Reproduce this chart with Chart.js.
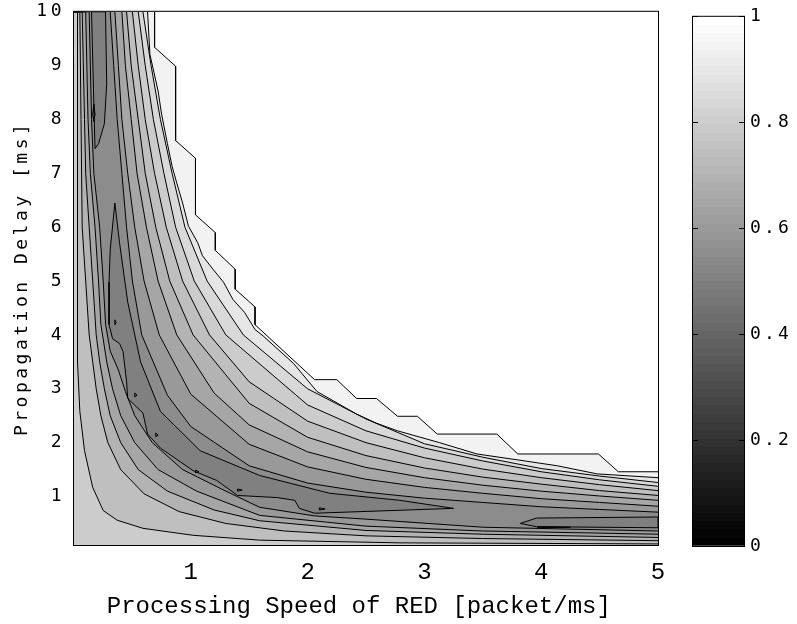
<!DOCTYPE html>
<html>
<head>
<meta charset="utf-8">
<title>RED contour</title>
<script src="https://cdn.jsdelivr.net/npm/chart.js@4.4.1/dist/chart.umd.min.js"></script>
<style>
  html, body { margin: 0; padding: 0; background: #fff; }
  #wrap { position: relative; width: 797px; height: 624px; overflow: hidden; }
  #contour { position: absolute; left: 0; top: 0; }
  #colorbar { position: absolute; left: 680px; top: 0; }
</style>
</head>
<body>
<div id="wrap">
  <canvas id="contour" width="680" height="624"></canvas>
  <canvas id="colorbar" width="117" height="624"></canvas>
</div>
<script>
// axes
const xRange = [0, 5];
const yRange = [0.1, 10];
const xTicks = [1, 2, 3, 4, 5];
const yTicks = [1, 2, 3, 4, 5, 6, 7, 8, 9, 10];
const barTicks = [0, 0.2, 0.4, 0.6, 0.8, 1];

// contour lines as [speed, delay]
// upper-right family (value grows towards the top-right corner)
const up100 = [[0.69,10],[0.69,9.34],[0.87,8.99],[0.87,7.61],[1.04,7.28],[1.04,6.23],[1.21,5.9],[1.21,5.57],[1.38,5.22],[1.38,4.85],[1.55,4.52],[1.55,4.19],[2.06,3.17],[2.25,3.17],[2.42,2.82],[2.59,2.82],[2.77,2.49],[2.94,2.49],[3.11,2.16],[3.62,2.16],[3.8,1.79],[4.49,1.79],[4.66,1.46],[5,1.46]];
const up95 = [[0.63,10],[0.65,9.21],[0.72,8.53],[0.75,8.1],[0.8,7.55],[0.84,7.13],[0.88,6.82],[0.93,6.45],[0.98,6.02],[1.06,5.71],[1.1,5.47],[1.19,5.22],[1.28,4.98],[1.36,4.66],[1.46,4.42],[1.55,4.1],[1.62,3.98],[1.88,3.47],[2.08,2.95],[2.42,2.53],[2.59,2.36],[2.77,2.22],[3.13,2.0],[3.45,1.79],[3.8,1.68],[4.14,1.57],[4.48,1.42],[5,1.35]];
const up90 = [[0.59,10],[0.66,9],[0.74,8],[0.84,7],[0.95,6],[1.14,5],[1.45,4],[2.0,3.0],[2.5,2.44],[3.0,1.98],[3.5,1.73],[4.0,1.52],[4.5,1.38],[5,1.26]];
const up85 = [[0.55,10],[0.61,9],[0.68,8],[0.77,7],[0.87,6],[1.03,5],[1.3,4],[2.0,2.7],[2.5,2.22],[3.0,1.9],[3.5,1.66],[4.0,1.46],[4.5,1.31],[5,1.19]];
const up80 = [[0.5,10],[0.55,9],[0.61,8],[0.69,7],[0.79,6],[0.93,5],[1.16,4],[1.5,3.13],[2.0,2.4],[2.5,2.0],[3.0,1.72],[3.5,1.51],[4.0,1.35],[4.5,1.22],[5,1.11]];
const up75 = [[0.45,10],[0.49,9],[0.55,8],[0.61,7],[0.7,6],[0.82,5],[1.02,4],[1.5,2.73],[2.0,2.1],[2.5,1.76],[3.0,1.53],[3.5,1.36],[4.0,1.23],[4.5,1.11],[5,1.02]];
const up70 = [[0.41,10],[0.44,9],[0.49,8],[0.54,7],[0.62,6],[0.72,5],[0.88,4],[1.2,2.92],[1.5,2.33],[2.0,1.83],[2.5,1.54],[3.0,1.35],[3.5,1.21],[4.0,1.1],[4.5,1.01],[5,0.93]];
const up65 = [[0.35,10],[0.38,9],[0.41,8],[0.46,7],[0.52,6],[0.6,5],[0.73,4],[1.0,2.9],[1.5,1.97],[2.0,1.55],[2.5,1.32],[3.0,1.17],[3.5,1.06],[4.0,0.96],[4.5,0.89],[5,0.82]];
const up60 = [[0.31,10],[0.34,9],[0.37,8],[0.41,7],[0.45,6],[0.5,5],[0.58,4],[0.8,2.88],[1.0,2.3],[1.5,1.57],[2.0,1.25],[2.5,1.08],[3.0,0.97],[3.5,0.89],[4.0,0.81],[4.5,0.76],[5,0.71]];

// lower-left family (value grows towards the origin)
const low60 = [[0.13,10],[0.15,8],[0.17,7],[0.22,6],[0.25,5],[0.27,4.2],[0.31,3.7],[0.38,3.35],[0.44,2.95],[0.52,2.5],[0.67,2.0],[0.93,1.5],[1.3,1.1],[1.59,0.8],[2.06,0.64],[2.5,0.58],[3.5,0.43],[5,0.36]];
const low65 = [[0.1,10],[0.12,8],[0.14,7],[0.18,6],[0.21,5],[0.23,4.2],[0.28,3.5],[0.33,3.0],[0.4,2.5],[0.52,2.0],[0.72,1.5],[1.05,1.1],[1.59,0.65],[2.5,0.45],[3.5,0.36],[5,0.3]];
const low70 = [[0.07,10],[0.09,8],[0.1,7],[0.13,6],[0.16,5],[0.19,4],[0.22,3.5],[0.26,3.0],[0.31,2.5],[0.4,2.0],[0.55,1.5],[0.8,1.1],[1.2,0.75],[1.59,0.55],[2.5,0.37],[3.5,0.3],[5,0.24]];
const low75 = [[0.05,10],[0.06,8],[0.07,6],[0.1,5],[0.13,4],[0.16,3.5],[0.19,3.0],[0.23,2.5],[0.29,2.0],[0.4,1.5],[0.6,1.05],[0.9,0.72],[1.3,0.5],[1.8,0.36],[2.5,0.27],[3.5,0.22],[5,0.18]];
const low80 = [[0.03,10],[0.03,3.5],[0.05,2.58],[0.09,1.85],[0.16,1.17],[0.25,0.74],[0.37,0.56],[0.59,0.41],[1.02,0.28],[1.59,0.19],[2.79,0.14],[5,0.12]];

// closed contours inside the valley (0.55) and its minima (0.5)
const valleyTop = [[0.15,10],[0.17,8.29],[0.18,7.46],[0.21,7.55],[0.26,7.92],[0.28,8.66],[0.27,10]];
const valleyLong = [[0.35,6.45],[0.31,5.58],[0.3,4.98],[0.3,4.19],[0.33,3.93],[0.39,3.84],[0.42,3.69],[0.45,3.14],[0.46,2.82],[0.59,2.55],[0.63,2.16],[0.74,1.9],[1.02,1.48],[1.22,1.3],[1.4,1.02],[1.74,0.98],[1.89,0.93],[1.93,0.78],[2.06,0.69],[3.25,0.78],[2.79,0.93],[2.19,1.06],[1.59,1.39],[1.08,1.85],[0.74,2.58],[0.57,3.5],[0.46,4.61],[0.39,5.71]];
const valleyRight = [[5,0.62],[3.96,0.6],[3.82,0.5],[3.96,0.44],[5,0.42]];
const minima = [
  [[0.17,8.29],[0.18,8.1],[0.17,7.96],[0.16,8.1]],
  [[0.35,4.28],[0.36,4.23],[0.35,4.19]],
  [[0.52,2.92],[0.54,2.88],[0.52,2.85]],
  [[0.7,2.18],[0.72,2.14],[0.7,2.11]],
  [[1.04,1.49],[1.07,1.46],[1.04,1.44]],
  [[1.4,1.14],[1.44,1.12],[1.4,1.1]],
  [[2.1,0.79],[2.15,0.77],[2.1,0.75]],
  [[3.97,0.44],[4.25,0.43],[3.97,0.42]]
];

const upperSet = [[0.6, up60], [0.65, up65], [0.7, up70], [0.75, up75], [0.8, up80], [0.85, up85], [0.9, up90], [0.95, up95], [1.0, up100]];
const lowerSet = [[0.6, low60], [0.65, low65], [0.7, low70], [0.75, low75], [0.8, low80]];
const valleyLevel = 0.55;

const gray = v => { const g = Math.round(v * 255); return `rgb(${g},${g},${g})`; };
const pts = a => a.map(p => ({ x: p[0], y: p[1] }));

// painter's order: biggest regions first
const layers = [];
lowerSet.forEach(([lvl, line]) => layers.push({ data: [{ x: xRange[0], y: yRange[1] }, ...pts(line)], fill: 'start', backgroundColor: gray(lvl) }));
upperSet.forEach(([lvl, line]) => layers.push({ data: pts(line), fill: 'end', backgroundColor: gray(lvl) }));
[valleyTop, valleyLong, valleyRight].forEach(line => layers.push({ data: pts(line).concat(pts(line.slice(0, 1))), fill: 'shape', backgroundColor: gray(valleyLevel - 0.05) }));
minima.forEach(line => layers.push({ data: pts(line).concat(pts(line.slice(0, 1))), fill: 'shape', backgroundColor: gray(valleyLevel - 0.1) }));

// filler paints the last dataset first
const datasets = layers.reverse().map(d => Object.assign({
  showLine: true, borderColor: '#000', borderWidth: 1, pointRadius: 0, tension: 0
}, d));

const frame = {
  id: 'frame',
  beforeDraw(chart) {
    const { ctx, chartArea: a } = chart;
    ctx.letterSpacing = '0px';
    ctx.save();
    ctx.fillStyle = gray(valleyLevel);
    ctx.fillRect(a.left, a.top, a.width, a.height);
    ctx.restore();
  },
  afterDatasetsDraw(chart) {
    const { ctx, chartArea: a } = chart;
    ctx.save();
    ctx.strokeStyle = '#000';
    ctx.lineWidth = 1;
    ctx.strokeRect(a.left - 0.5, a.top - 0.5, a.width + 1, a.height + 1);
    ctx.restore();
    // y labels and title are drawn after this point
    ctx.letterSpacing = '3.5px';
  }
};

const monoX = { family: 'Liberation Mono', size: 24 };
const monoY = { family: 'DejaVu Sans Mono', size: 18 };

new Chart(document.getElementById('contour'), {
  type: 'scatter',
  data: { datasets },
  options: {
    responsive: false,
    animation: false,
    devicePixelRatio: 1,
    layout: { padding: { left: 0, right: 22, top: 7, bottom: 0 } },
    plugins: {
      legend: { display: false },
      tooltip: { enabled: false },
      filler: { drawTime: 'beforeDatasetsDraw' }
    },
    scales: {
      x: {
        type: 'linear', min: xRange[0], max: xRange[1],
        afterBuildTicks: s => { s.ticks = xTicks.map(v => ({ value: v })); },
        afterFit: s => { s.height = 79; },
        grid: { display: false },
        border: { display: false },
        ticks: { font: monoX, color: '#000', padding: 5 },
        title: { display: true, text: 'Processing Speed of RED [packet/ms] ', font: monoX, color: '#000', padding: { top: 0, bottom: 3 } }
      },
      y: {
        type: 'linear', min: yRange[0], max: yRange[1],
        afterBuildTicks: s => { s.ticks = yTicks.map(v => ({ value: v })); },
        afterFit: s => { s.width = 74; },
        grid: { display: false, z: 1 },
        border: { display: false },
        ticks: { font: monoY, color: '#000', padding: 1, z: 1 },
        title: { display: true, text: 'Propagation Delay [ms]', font: monoY, color: '#000', padding: { top: 12, bottom: 0 } }
      }
    }
  },
  plugins: [frame]
});

// colour bar
function bandGradient(chart) {
  const a = chart.chartArea;
  if (!a) return '#888';
  const g = chart.ctx.createLinearGradient(0, a.bottom, 0, a.top);
  const n = 64;
  for (let k = 0; k < n; k++) {
    const c = gray(k / (n - 1));
    g.addColorStop(k / n, c);
    g.addColorStop((k + 1) / n, c);
  }
  return g;
}

const barFrame = {
  id: 'barFrame',
  beforeDraw(chart) { chart.ctx.letterSpacing = '3.2px'; },
  afterDraw(chart) {
    const { ctx, chartArea: a } = chart;
    ctx.save();
    ctx.strokeStyle = '#000';
    ctx.lineWidth = 1;
    ctx.strokeRect(a.left - 0.5, a.top - 0.5, a.width + 1, a.height + 1);
    ctx.restore();
  }
};

new Chart(document.getElementById('colorbar'), {
  type: 'bar',
  data: {
    labels: ['gray'],
    datasets: [{ data: [[0, 1]], backgroundColor: c => bandGradient(c.chart), borderWidth: 0, barPercentage: 1, categoryPercentage: 1 }]
  },
  options: {
    responsive: false,
    animation: false,
    devicePixelRatio: 1,
    layout: { padding: { left: 13, right: 0, top: 7, bottom: 78 } },
    plugins: { legend: { display: false }, tooltip: { enabled: false } },
    scales: {
      x: { display: false },
      y: {
        position: 'right', min: 0, max: 1,
        afterBuildTicks: s => { s.ticks = barTicks.map(v => ({ value: v })); },
        afterFit: s => { s.width = 53; },
        grid: { display: true, drawOnChartArea: true, drawTicks: false, color: '#000', lineWidth: 1, z: 1 },
        border: { display: false, dash: [5, 41] },
        ticks: { font: monoY, color: '#000', padding: 6, callback: v => String(v) }
      }
    }
  },
  plugins: [barFrame]
});
</script>
</body>
</html>
